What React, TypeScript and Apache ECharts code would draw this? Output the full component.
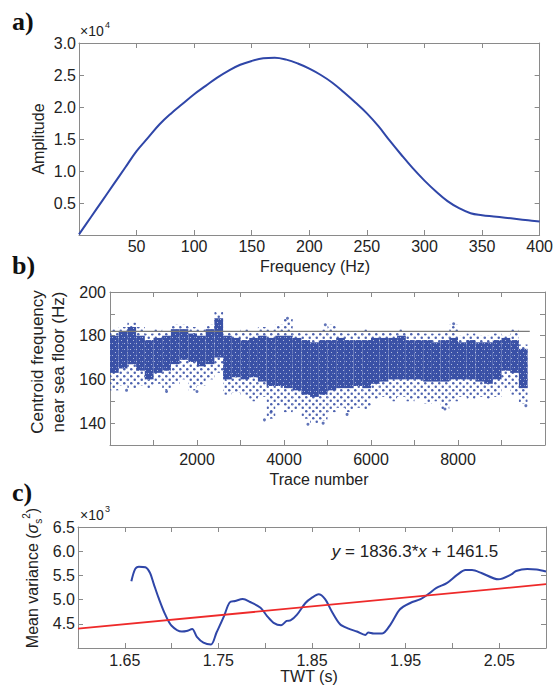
import React, { useEffect, useRef } from "react";
import * as echarts from "echarts";

// ---------- Panel a: amplitude spectrum ----------
const freqHz = [0, 10, 20, 30, 40, 50, 60, 70, 80, 90, 100, 110, 120, 130, 140, 150, 160, 170, 180, 190, 200, 210, 220, 230, 240, 250, 260, 270, 280, 290, 300, 310, 320, 330, 340, 350, 360, 370, 380, 390, 400];
const amplitudeE4 = [0.01, 0.27, 0.53, 0.79, 1.05, 1.31, 1.52, 1.73, 1.9, 2.05, 2.2, 2.33, 2.46, 2.57, 2.66, 2.72, 2.76, 2.77, 2.74, 2.68, 2.6, 2.5, 2.38, 2.23, 2.07, 1.9, 1.7, 1.47, 1.25, 1.04, 0.85, 0.68, 0.53, 0.42, 0.34, 0.31, 0.29, 0.27, 0.25, 0.23, 0.21];
const freqTicks = [50, 100, 150, 200, 250, 300, 350, 400];

// ---------- Panel b: centroid frequency per trace (binned spread) ----------
const BIN_WIDTH = 200;
const binStart = [0, 200, 400, 600, 800, 1000, 1200, 1400, 1600, 1800, 2000, 2200, 2400, 2600, 2800, 3000, 3200, 3400, 3600, 3800, 4000, 4200, 4400, 4600, 4800, 5000, 5200, 5400, 5600, 5800, 6000, 6200, 6400, 6600, 6800, 7000, 7200, 7400, 7600, 7800, 8000, 8200, 8400, 8600, 8800, 9000, 9200, 9400];
const coreLow = [163, 165, 167, 164, 160, 163, 164, 167, 169, 168, 166, 167, 170, 160, 161, 160, 161, 159, 157, 157, 156, 155, 153, 152, 153, 155, 156, 156, 157, 156, 158, 159, 160, 160, 160, 160, 159, 159, 159, 160, 160, 160, 159, 158, 160, 164, 163, 156];
const coreHigh = [180, 182, 184, 180, 178, 179, 180, 183, 183, 181, 180, 183, 188, 180, 179, 178, 179, 180, 179, 180, 180, 179, 178, 177, 178, 178, 179, 178, 178, 178, 179, 179, 179, 180, 178, 178, 178, 177, 178, 179, 177, 178, 177, 177, 178, 179, 178, 174];
const outerLow = [155, 157, 156, 157, 156, 158, 155, 158, 160, 155, 157, 160, 163, 153, 154, 153, 150, 152, 142, 148, 145, 146, 142, 140, 141, 145, 147, 145, 147, 146, 151, 152, 150, 152, 150, 151, 149, 150, 146, 150, 152, 151, 152, 151, 152, 156, 153, 149];
const outerHigh = [183, 184, 186, 184, 181, 183, 182, 185, 185, 184, 183, 185, 191, 182, 182, 183, 182, 184, 183, 185, 188, 182, 181, 182, 183, 185, 182, 181, 182, 183, 182, 182, 182, 183, 182, 182, 181, 181, 182, 185, 180, 181, 180, 180, 181, 180, 183, 176];
const outlierTrace = [380, 1300, 2000, 3550, 3700, 4080, 4550, 4900, 4950, 5450, 7700, 7900, 9560];
const outlierFreq = [155, 154.5, 154.5, 141.5, 145, 188, 139.5, 140, 185, 144, 146.5, 185.5, 148];
const refLineFreq = 182;
const refLineEnd = 9650;

// ---------- Panel c: mean variance vs TWT ----------
const twt = [1.657, 1.661, 1.665, 1.672, 1.677, 1.681, 1.686, 1.693, 1.7, 1.711, 1.716, 1.722, 1.727, 1.734, 1.742, 1.748, 1.756, 1.762, 1.768, 1.776, 1.784, 1.795, 1.802, 1.809, 1.817, 1.823, 1.827, 1.834, 1.843, 1.85, 1.857, 1.864, 1.871, 1.88, 1.889, 1.898, 1.907, 1.91, 1.916, 1.925, 1.934, 1.944, 1.955, 1.966, 1.974, 1.983, 1.994, 2.005, 2.014, 2.021, 2.031, 2.049, 2.063, 2.068, 2.08, 2.09, 2.1];
const meanVarE3 = [5.38, 5.63, 5.68, 5.67, 5.55, 5.32, 5.04, 4.7, 4.46, 4.34, 4.35, 4.39, 4.23, 4.11, 4.07, 4.32, 4.66, 4.94, 4.97, 5.01, 4.95, 4.83, 4.66, 4.52, 4.47, 4.56, 4.57, 4.69, 4.93, 5.04, 5.11, 5.01, 4.76, 4.49, 4.4, 4.34, 4.27, 4.32, 4.3, 4.3, 4.49, 4.8, 4.93, 5.01, 5.11, 5.24, 5.34, 5.51, 5.61, 5.61, 5.55, 5.42, 5.52, 5.59, 5.63, 5.62, 5.58];
const fitTwt = [1.6, 2.1];
const fitVarE3 = [4.4, 5.318];

const FONT = "Liberation Sans, Arial, sans-serif";
const SERIF = "Liberation Serif, Times New Roman, serif";
const AXIS_COLOR = "#8a8a8a";
const LABEL_COLOR = "#222";
const BLUE = "#2f46a8";
const DOT_BLUE = "#3a51a6";

// Texture tiles (style only): a sparse staggered dot texture and a dense speckled one.
function makeTile(kind: "sparse" | "dense") {
  const size = kind === "dense" ? 6 : 7;
  const c = document.createElement("canvas");
  c.width = size;
  c.height = size;
  const ctx = c.getContext("2d");
  if (!ctx) return DOT_BLUE;
  if (kind === "dense") {
    ctx.fillStyle = DOT_BLUE;
    ctx.fillRect(0, 0, size, size);
    ctx.fillStyle = "rgba(255,255,255,0.6)";
    ctx.fillRect(1, 4, 1, 1);
    ctx.fillRect(4, 1, 1, 1);
    ctx.fillStyle = "rgba(255,255,255,0.3)";
    ctx.fillRect(2, 1, 1, 1);
  } else {
    ctx.fillStyle = DOT_BLUE;
    ctx.beginPath();
    ctx.arc(1.75, 1.75, 1.25, 0, Math.PI * 2);
    ctx.fill();
    ctx.beginPath();
    ctx.arc(5.25, 5.25, 1.25, 0, Math.PI * 2);
    ctx.fill();
  }
  return { image: c.toDataURL(), repeat: "repeat", imageWidth: size, imageHeight: size };
}

function xPair(gridIndex: number, min: number, max: number, interval: number, fmt: (v: number) => string, margin: number) {
  const common = {
    type: "value" as const,
    gridIndex, min, max, interval,
    axisLine: { show: true, onZero: false, lineStyle: { color: AXIS_COLOR, width: 1 } },
    axisTick: { show: true, inside: true, length: 5, lineStyle: { color: AXIS_COLOR, width: 1 } },
    splitLine: { show: false },
  };
  return [
    { ...common, position: "bottom", axisLabel: { formatter: fmt, margin, color: LABEL_COLOR, fontSize: 16, fontFamily: FONT, showMinLabel: true, showMaxLabel: true } },
    { ...common, position: "top", axisLabel: { show: false } },
  ];
}
function yPair(gridIndex: number, min: number, max: number, interval: number, fmt: (v: number) => string, margin: number) {
  const common = {
    type: "value" as const,
    gridIndex, min, max, interval,
    axisLine: { show: true, onZero: false, lineStyle: { color: AXIS_COLOR, width: 1 } },
    axisTick: { show: true, inside: true, length: 5, lineStyle: { color: AXIS_COLOR, width: 1 } },
    splitLine: { show: false },
  };
  return [
    { ...common, position: "left", axisLabel: { formatter: fmt, margin, color: LABEL_COLOR, fontSize: 16, fontFamily: FONT, showMinLabel: true, showMaxLabel: true } },
    { ...common, position: "right", axisLabel: { show: false } },
  ];
}

function txt(x: number, y: number, text: string, opts: any = {}) {
  return {
    type: "text",
    x, y,
    rotation: opts.rotation || 0,
    style: {
      text,
      fill: opts.fill || LABEL_COLOR,
      font: opts.font || `16px ${FONT}`,
      align: opts.align || "center",
      verticalAlign: opts.verticalAlign || "middle",
      rich: opts.rich,
    },
    z: 100,
  };
}

export default function App() {
  const ref = useRef<HTMLDivElement>(null);
  useEffect(() => {
    if (!ref.current) return;
    const chart = echarts.init(ref.current, undefined, { renderer: "svg" });

    const sparseFill = makeTile("sparse");
    const denseFill = makeTile("dense");
    const bandData = binStart.map((b, i) => [b, outerLow[i], coreLow[i], coreHigh[i], outerHigh[i]]);

    const option: any = {
      animation: false,
      backgroundColor: "#ffffff",
      grid: [
        { left: 79, top: 43, width: 467, height: 192 },
        { left: 110, top: 292, width: 435, height: 153 },
        { left: 78, top: 527, width: 468, height: 121 },
      ],
      xAxis: [
        ...xPair(0, 0, 400, 50, (v) => (freqTicks.indexOf(Math.round(v)) >= 0 ? String(Math.round(v)) : ""), 3),
        ...xPair(1, 0, 10000, 1000, (v) => (v > 0 && v < 10000 && Math.round(v) % 2000 === 0 ? String(Math.round(v)) : ""), 6),
        ...xPair(2, 1.6, 2.1, 0.05, (v) => (Math.round(v * 100) % 10 === 5 ? (Math.round(v * 100) / 100).toFixed(2) : ""), 4),
      ],
      yAxis: [
        ...yPair(0, 0, 3, 0.5, (v) => (v > 0.01 ? v.toFixed(1) : ""), 3),
        ...yPair(1, 130, 200, 10, (v) => (Math.round(v) % 20 === 0 && v > 131 ? String(Math.round(v)) : ""), 4),
        ...yPair(2, 4, 6.5, 0.5, (v) => (v > 4.01 ? v.toFixed(1) : ""), 3),
      ],
      series: [
        {
          type: "line",
          xAxisIndex: 0, yAxisIndex: 0,
          data: freqHz.map((f, i) => [f, amplitudeE4[i]]),
          smooth: 0.4,
          showSymbol: false,
          lineStyle: { color: BLUE, width: 2 },
        },
        {
          type: "custom",
          xAxisIndex: 2, yAxisIndex: 2,
          data: bandData,
          encode: { x: 0, y: [1, 2, 3, 4] },
          renderItem: (params: any, api: any) => {
            const x0 = api.value(0);
            const lo = api.value(1), cLo = api.value(2), cHi = api.value(3), hi = api.value(4);
            const pA = api.coord([x0, hi]);
            const pB = api.coord([x0 + BIN_WIDTH, lo]);
            const cA = api.coord([x0, cHi]);
            const cB = api.coord([x0 + BIN_WIDTH, cLo]);
            return {
              type: "group",
              children: [
                { type: "rect", shape: { x: pA[0], y: pA[1], width: pB[0] - pA[0], height: pB[1] - pA[1] }, style: { fill: sparseFill, opacity: 0.9 } },
                { type: "rect", shape: { x: cA[0], y: cA[1], width: cB[0] - cA[0], height: cB[1] - cA[1] }, style: { fill: denseFill } },
              ],
            };
          },
        },
        {
          type: "scatter",
          xAxisIndex: 2, yAxisIndex: 2,
          data: outlierTrace.map((t, i) => [t, outlierFreq[i]]),
          symbolSize: 3,
          itemStyle: { color: DOT_BLUE },
        },
        {
          type: "line",
          xAxisIndex: 2, yAxisIndex: 2,
          data: [[0, refLineFreq], [refLineEnd, refLineFreq]],
          showSymbol: false,
          lineStyle: { color: "#7a7a7a", width: 1.3 },
          z: 5,
        },
        {
          type: "line",
          xAxisIndex: 4, yAxisIndex: 4,
          data: twt.map((t, i) => [t, meanVarE3[i]]),
          smooth: 0.3,
          showSymbol: false,
          lineStyle: { color: BLUE, width: 2 },
        },
        {
          type: "line",
          xAxisIndex: 4, yAxisIndex: 4,
          data: fitTwt.map((t, i) => [t, fitVarE3[i]]),
          showSymbol: false,
          lineStyle: { color: "#ee2a2a", width: 1.8 },
          z: 4,
        },
      ],
      graphic: [
        txt(12, 21, "a)", { font: `bold 26px ${SERIF}`, align: "left", fill: "#111" }),
        txt(12, 265, "b)", { font: `bold 26px ${SERIF}`, align: "left", fill: "#111" }),
        txt(12, 492, "c)", { font: `bold 26px ${SERIF}`, align: "left", fill: "#111" }),
        txt(80, 31, "×10", { font: `14px ${FONT}`, align: "left" }),
        txt(105, 25, "4", { font: `9px ${FONT}`, align: "left" }),
        txt(80, 515, "×10", { font: `14px ${FONT}`, align: "left" }),
        txt(105, 509, "3", { font: `9px ${FONT}`, align: "left" }),
        txt(38, 139, "Amplitude", { rotation: Math.PI / 2 }),
        txt(315, 266, "Frequency (Hz)"),
        txt(37, 362, "Centroid frequency", { rotation: Math.PI / 2, font: `17px ${FONT}` }),
        txt(58, 362, "near sea floor (Hz)", { rotation: Math.PI / 2, font: `17px ${FONT}` }),
        txt(319, 479, "Trace number"),
        txt(309, 676, "TWT (s)"),
        txt(32, 578, "{n|Mean variance (}{g|σ}{sub|s}{sup|2}{n|)}", {
          rotation: Math.PI / 2,
          rich: {
            n: { fontSize: 16, fontFamily: FONT, fill: LABEL_COLOR, lineHeight: 22, verticalAlign: "middle" },
            g: { fontSize: 16, fontFamily: FONT, fontStyle: "italic", fill: LABEL_COLOR, lineHeight: 22, verticalAlign: "middle" },
            sub: { fontSize: 10, fontFamily: FONT, fill: LABEL_COLOR, verticalAlign: "bottom", lineHeight: 10 },
            sup: { fontSize: 10, fontFamily: FONT, fill: LABEL_COLOR, verticalAlign: "top", lineHeight: 10 },
          },
        }),
        txt(415, 551, "{i|y}{n| = 1836.3*}{i|x}{n| + 1461.5}", {
          rich: {
            n: { fontSize: 17, fontFamily: FONT, fill: LABEL_COLOR },
            i: { fontSize: 17, fontFamily: FONT, fontStyle: "italic", fill: LABEL_COLOR },
          },
        }),
      ],
    };
    chart.setOption(option);
    return () => chart.dispose();
  }, []);
  return <div ref={ref} style={{ position: "fixed", left: 0, top: 0, width: 556, height: 686, background: "#fff" }} />;
}
